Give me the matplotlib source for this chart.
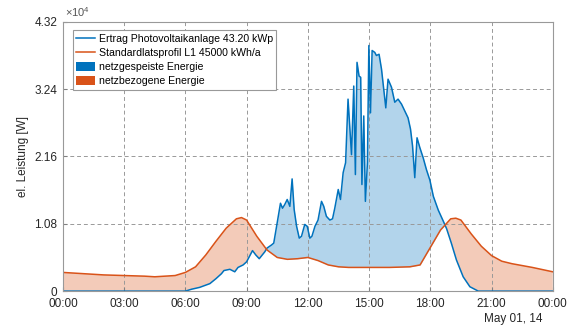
import numpy as np
import pandas as pd
import matplotlib
matplotlib.use('Agg')
import matplotlib.pyplot as plt
import matplotlib.dates as mdates
from matplotlib.patches import Patch
from matplotlib.lines import Line2D

plt.rcParams['font.family'] = ['Liberation Sans', 'DejaVu Sans']
plt.rcParams['mathtext.default'] = 'regular'

# PV yield, hours of the day and power in 1e4 W
pv_hours = [0, 5.9, 6.0, 6.3, 6.7, 7.2, 7.5, 7.77, 7.89, 8.18, 8.42, 8.58, 8.83, 9.0,
            9.29, 9.45, 9.62, 9.89, 10.0, 10.22, 10.33, 10.47, 10.66, 10.76, 10.87,
            10.99, 11.12, 11.23, 11.33, 11.45, 11.58, 11.69, 11.85, 11.97, 12.1, 12.2,
            12.35, 12.5, 12.67, 12.78, 12.91, 13.08, 13.21, 13.32, 13.49, 13.6, 13.73,
            13.85, 13.97, 14.14, 14.25, 14.33, 14.41, 14.51, 14.59, 14.65, 14.74, 14.82,
            14.92, 14.99, 15.07, 15.15, 15.28, 15.36, 15.49, 15.61, 15.82, 15.93, 16.1,
            16.26, 16.42, 16.59, 16.75, 16.91, 17.03, 17.13, 17.24, 17.35, 17.49, 17.65,
            17.81, 17.98, 18.15, 18.39, 18.64, 18.8, 19.03, 19.28, 19.61, 19.94, 20.35, 24]
pv_power = [0, 0, 0, 0.03, 0.06, 0.12, 0.2, 0.28, 0.33, 0.35, 0.31, 0.38, 0.42, 0.47,
            0.65, 0.58, 0.52, 0.63, 0.69, 0.74, 0.77, 1.04, 1.41, 1.33, 1.39,
            1.47, 1.36, 1.80, 1.31, 1.04, 0.85, 0.88, 1.07, 1.04, 0.85, 0.88,
            1.04, 1.14, 1.44, 1.36, 1.20, 1.14, 1.16, 1.33, 1.63, 1.47, 1.90,
            2.06, 3.08, 2.19, 3.29, 1.87, 3.67, 3.45, 3.43, 1.71, 2.81, 1.44,
            2.06, 3.94, 2.86, 3.86, 3.83, 3.78, 3.80, 3.56, 2.94, 3.40, 3.27,
            3.03, 3.08, 3.00, 2.89, 2.78, 2.60, 2.33, 1.82, 2.46, 2.30, 2.14,
            1.95, 1.78, 1.52, 1.30, 1.12, 1.00, 0.77, 0.50, 0.23, 0.07, 0, 0]

# standard load profile L1
load_hours = [0, 1, 2, 3, 4, 4.5, 5, 5.5, 6, 6.5, 7, 7.5, 8, 8.5, 8.75, 9, 9.5, 10,
              10.5, 11, 11.5, 12, 12.5, 13, 13.5, 14, 15, 16, 17, 17.5, 18, 18.5, 19,
              19.25, 19.5, 20, 20.5, 21, 21.5, 22, 23, 24]
load_power = [0.30, 0.28, 0.26, 0.25, 0.24, 0.23, 0.24, 0.25, 0.30, 0.39, 0.58, 0.80,
              1.01, 1.16, 1.18, 1.14, 0.88, 0.66, 0.54, 0.51, 0.52, 0.54, 0.49, 0.42,
              0.39, 0.38, 0.38, 0.38, 0.39, 0.42, 0.70, 0.98, 1.16, 1.17, 1.14, 0.92,
              0.72, 0.57, 0.48, 0.44, 0.38, 0.31]

labels = ['Ertrag Photovoltaikanlage 43.20 kWp', 'Standardlatsprofil L1 45000 kWh/a',
          'netzgespeiste Energie', 'netzbezogene Energie']
yticks = [0, 1.08, 2.16, 3.24, 4.32]

blue = '#0072BD'
orange = '#D95319'

day = pd.Timestamp('2014-05-01')
pv_h = np.array(pv_hours)
pv_w = np.array(pv_power) * 1e4
ld_h = np.array(load_hours)
ld_w = np.array(load_power) * 1e4

# common grid only for the shaded area between the two curves
grid_h = np.union1d(pv_h, ld_h)
pv_g = np.interp(grid_h, pv_h, pv_w)
ld_g = np.interp(grid_h, ld_h, ld_w)

to_t = lambda h: day + pd.to_timedelta(h, unit='h')

fig = plt.figure(figsize=(5.77, 3.26), dpi=100)
ax = fig.add_axes([0.109, 0.107, 0.849, 0.826])

tg = to_t(grid_h)
ax.fill_between(tg, pv_g, ld_g, where=pv_g >= ld_g, interpolate=True,
                color=blue, alpha=0.3, lw=0)
ax.fill_between(tg, pv_g, ld_g, where=pv_g <= ld_g, interpolate=True,
                color=orange, alpha=0.3, lw=0)
ax.plot(to_t(pv_h), pv_w, color=blue, lw=1.1)
ax.plot(to_t(ld_h), ld_w, color=orange, lw=1.1)

ax.set_xlim(day, day + pd.Timedelta(hours=24))
ax.set_ylim(0, 43200)
ax.xaxis.set_major_locator(mdates.HourLocator(byhour=range(0, 24, 3)))
ax.xaxis.set_major_formatter(mdates.DateFormatter('%H:%M'))
ax.set_yticks([v * 1e4 for v in yticks])
ax.set_yticklabels(['0' if v == 0 else '%.2f' % v for v in yticks])
ax.tick_params(direction='in', length=3, labelsize=8.5, colors='0.5', labelcolor='#262626')
ax.tick_params(axis='x', pad=5)
ax.tick_params(axis='y', pad=4)
ax.grid(True, color='0.6', ls=(0, (4, 3)), lw=0.7)
for s in ax.spines.values():
    s.set_color('0.6')
    s.set_linewidth(0.8)

ax.set_ylabel('el. Leistung [W]', fontsize=8.5, color='#262626', labelpad=4)
ax.text(0.005, 1.01, r'$\times10^{4}$', transform=ax.transAxes, fontsize=8,
        color='#555555', va='bottom', ha='left')
fig.text(542 / 577, 1 - 319 / 326, 'May 01, 14', fontsize=8.5, color='#262626',
         ha='right', va='center')

handles = [Line2D([], [], color=blue, lw=1.1), Line2D([], [], color=orange, lw=1.1),
           Patch(facecolor=blue), Patch(facecolor=orange)]
leg = ax.legend(handles, labels, loc='upper left', bbox_to_anchor=(0.02, 0.97),
                borderaxespad=0, fontsize=7.6, fancybox=False, framealpha=1,
                edgecolor='0.6', handlelength=1.8, handleheight=1.0, handletextpad=0.3,
                labelspacing=0.35, borderpad=0.35)
leg.get_frame().set_linewidth(0.8)

fig.savefig('out.png', dpi=100)
